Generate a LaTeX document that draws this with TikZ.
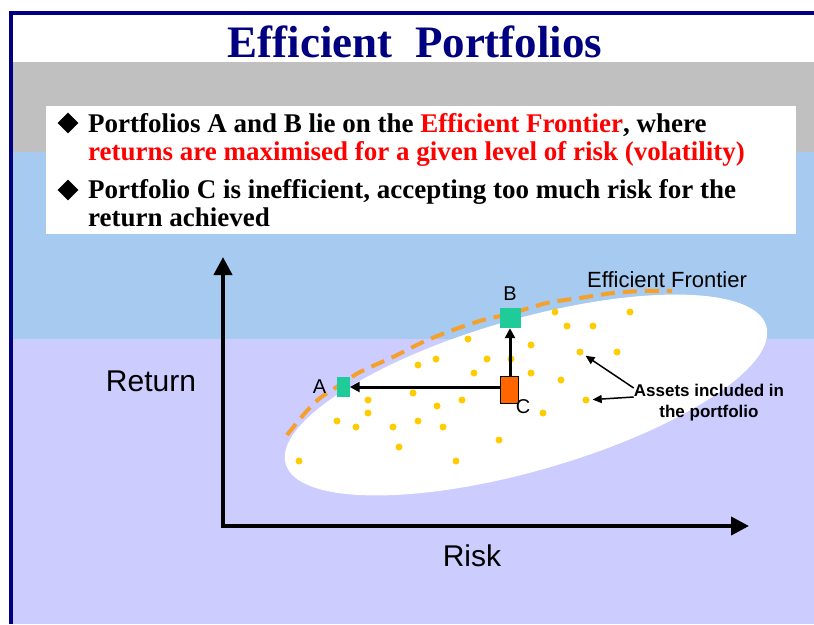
\documentclass[tikz,border=0pt]{standalone}
\usepackage{fontspec}
\setmainfont{Liberation Serif}
\newfontfamily\labelfont{Liberation Sans}
\usetikzlibrary{arrows.meta,positioning,shapes.geometric}

\definecolor{navyblue}{HTML}{000080}
\definecolor{bandgray}{HTML}{C0C0C0}
\definecolor{skyband}{HTML}{A6CAF0}
\definecolor{lavender}{HTML}{CCCCFF}
\definecolor{frontier}{HTML}{F5A02A}
\definecolor{assetdot}{HTML}{FFCC00}
\definecolor{portgreen}{HTML}{1FCC99}
\definecolor{portorange}{HTML}{FF6600}
\definecolor{textred}{HTML}{FF0000}

\begin{document}
\begin{tikzpicture}[x=1pt, y=-1pt,
    bulletmark/.style = {diamond, fill=black, inner sep=0pt, minimum size=21pt},
    bullettext/.style = {anchor=base west, inner sep=0pt, font=\fontsize{27}{27}\selectfont\bfseries},
    axislabel/.style = {inner sep=0pt, font=\labelfont\fontsize{30}{30}\selectfont},
    pointlabel/.style = {inner sep=0pt, font=\labelfont\fontsize{20}{20}\selectfont},
    portfolio/.style = {inner sep=0pt, fill=portgreen},
    asset/.style = {circle, fill=assetdot, inner sep=0pt, minimum size=7pt},
    axis/.style = {line width=4pt, >={Triangle[length=18pt,width=18pt]}},
    move/.style = {line width=3pt, ->, >={Triangle[length=10pt,width=10pt]}},
    pointer/.style = {line width=1.5pt, ->, >={Triangle[length=9pt,width=8pt]}}]
    \useasboundingbox (0,0) rectangle (814,624);

    % slide background
    \fill[white] (0,0) rectangle (814,624);
    \fill[bandgray] (11,62) rectangle (814,152);
    \fill[skyband] (11,152) rectangle (814,339);
    \fill[lavender] (11,339) rectangle (814,624);
    \draw[navyblue, line width=4pt] (11,624) -- (11,13) -- (814,13);

    \node[anchor=base, inner sep=0pt, text=navyblue, font=\fontsize{45}{45}\selectfont\bfseries]
        (title) at (415,57) {Efficient\ \ Portfolios};

    % text box
    \fill[white] (46,106) rectangle (796,234);
    \node[bulletmark] (mark1) at (68,123) {};
    \node[bulletmark] (mark2) at (68,190) {};
    \node[bullettext] (line1) at (88,132) {Portfolios A and B lie on the \textcolor{textred}{Efficient Frontier}, where};
    \node[bullettext, text=textred] (line2) at (88,160) {returns are maximised for a given level of risk (volatility)};
    \node[bullettext] (line3) at (88,198) {Portfolio C is inefficient, accepting too much risk for the};
    \node[bullettext] (line4) at (88,226) {return achieved};

    % axes
    \coordinate (origin) at (223,526);
    \coordinate (ytop) at (223,257);
    \coordinate (xend) at (749,526);
    \draw[axis, <->] (ytop) -- (origin) -- (xend);
    \node[axislabel] (ret) at (151,381) {Return};
    \node[axislabel] (risk) at (472,556) {Risk};

    % cloud of assets
    \fill[white, rotate around={16:(526,395)}] (526,395) ellipse [x radius=250, y radius=76];
    \foreach \x/\y [count=\i] in {630/312, 555/312, 567/326, 593/326, 468/339, 531/345,
        580/352, 617/352, 436/359, 418/365, 487/359, 511/359, 474/373, 531/373, 561/380,
        413/393, 368/400, 462/400, 437/406, 586/400, 368/413, 543/413, 337/421, 356/427,
        393/427, 418/421, 443/427, 499/440, 399/447, 299/461, 456/461}
        \node[asset] (dot\i) at (\x,\y) {};

    % efficient frontier
    \draw[frontier, line width=4pt, dash pattern=on 14pt off 8pt] plot[smooth] coordinates
        {(287,435) (305,413) (320,398) (343,383) (360,372) (393,357) (423,342) (453,330)
         (483,320) (509,314) (547,303) (580,298) (613,293) (643,291) (672,291)};
    \node[inner sep=0pt, font=\labelfont\fontsize{22}{22}\selectfont] (frontlabel) at (667,280) {Efficient Frontier};

    % portfolios
    \node[portfolio, minimum width=13pt, minimum height=20pt] (portA) at (343,387) {};
    \node[portfolio, minimum width=21pt, minimum height=20pt] (portB) at (510,318) {};
    \node[draw=black, line width=1pt, fill=portorange, inner sep=0pt, minimum width=18pt, minimum height=27pt] (portC) at (509,390) {};
    \node[pointlabel, left=10pt of portA] (labA) {A};
    \node[pointlabel, above=7pt of portB] (labB) {B};
    \node[pointlabel] (labC) at (523,407) {C};
    \draw[move] (portC.west |- portA.east) -- (portA.east);
    \draw[move] (portC.north -| portB.south) -- (portB.south);

    % annotation
    \node[inner sep=0pt, align=center, font=\labelfont\fontsize{17}{21}\selectfont\bfseries] (note) at (709,403)
        {Assets included in\\the portfolio};
    \draw[pointer, shorten >=3pt] ([yshift=15pt]note.west) -- (dot7);
    \draw[pointer, shorten >=3pt] ([yshift=6pt]note.west) -- (dot20);
\end{tikzpicture}
\end{document}
